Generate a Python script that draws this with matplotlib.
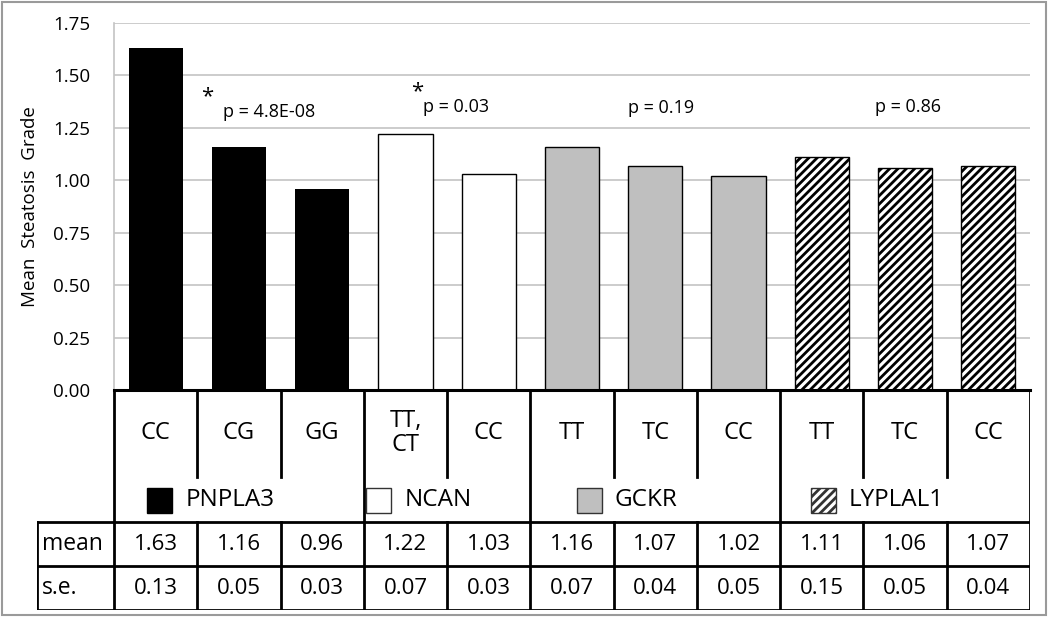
import numpy as np
import matplotlib.pyplot as plt
from matplotlib.patches import Rectangle

plt.rcParams['font.family'] = ['Open Sans', 'DejaVu Sans']
plt.rcParams['hatch.linewidth'] = 2.0

# data
genotypes = ['CC', 'CG', 'GG', 'TT,\nCT', 'CC', 'TT', 'TC', 'CC', 'TT', 'TC', 'CC']
means = [1.63, 1.16, 0.96, 1.22, 1.03, 1.16, 1.07, 1.02, 1.11, 1.06, 1.07]
ses = [0.13, 0.05, 0.03, 0.07, 0.03, 0.07, 0.04, 0.05, 0.15, 0.05, 0.04]
genes = ['PNPLA3', 'NCAN', 'GCKR', 'LYPLAL1']
gene_sizes = [3, 2, 3, 3]
pvals = ['p = 4.8E-08', 'p = 0.03', 'p = 0.19', 'p = 0.86']
signif = [True, True, False, False]

# styles per gene
face = ['black', 'white', '#bfbfbf', 'white']
hatch = [None, None, None, '////']

W, H = 1050, 620
fig = plt.figure(figsize=(W / 100, H / 100), dpi=100)

# pixel layout
axL, axR, axT, axB = 114, 1030, 23, 390
tabL, tabB = 37, 610
rowGeno, rowGene, rowMean = 477, 522, 566

ax = fig.add_axes([axL / W, 1 - axB / H, (axR - axL) / W, (axB - axT) / H])
n = len(means)
x = np.arange(n)
gidx = np.repeat(np.arange(len(genes)), gene_sizes)
for i in x:
    g = gidx[i]
    ax.bar(x[i], means[i], width=0.65, color=face[g], hatch=hatch[g],
           edgecolor='black', linewidth=0.0 if g == 0 else 1.0, zorder=3)
ax.set_xlim(-0.5, n - 0.5)
ax.set_ylim(0, 1.75)
ax.set_yticks(np.arange(0, 1.76, 0.25))
ax.set_yticklabels(['%.2f' % v for v in np.arange(0, 1.76, 0.25)], fontsize=13.5)
ax.tick_params(axis='y', length=0, pad=17)
ax.set_xticks([])
ax.grid(axis='y', color='#c4c4c4', linewidth=1.2, zorder=0)
for s in ['top', 'right']:
    ax.spines[s].set_visible(False)
ax.spines['left'].set_color('#c4c4c4')
ax.spines['left'].set_linewidth(1.2)
ax.spines['bottom'].set_linewidth(2.2)
ax.spines['bottom'].set_zorder(5)
ax.set_ylabel('Mean  Steatosis  Grade', fontsize=13.5, labelpad=10)

# p-value annotations
p_pos = [(0.81, 1.326), (3.21, 1.349), (5.67, 1.345), (8.64, 1.35)]
star_pos = [(0.62, 1.40), (3.14, 1.42)]
for k in range(len(genes)):
    px, py = p_pos[k]
    ax.text(px, py, pvals[k], fontsize=13, ha='left', va='center')
    if signif[k]:
        sx, sy = star_pos[k]
        ax.text(sx, sy, '*', fontsize=16, ha='center', va='center')

# table below
slot = (axR - axL) / n
tax = fig.add_axes([tabL / W, 1 - tabB / H, (axR - tabL) / W, (tabB - axB) / H])
tax.set_xlim(-0.5 - (axL - tabL) / slot, n - 0.5)
tax.set_ylim(tabB - axB, 0)
tax.axis('off')
lw = 2.0
yg, yn, ym, ys = rowGeno - axB, rowGene - axB, rowMean - axB, tabB - axB
left = -0.5 - (axL - tabL) / slot
bounds = np.concatenate([[0], np.cumsum(gene_sizes)]) - 0.5
for b in np.arange(-0.5, n):
    if b in bounds:
        tax.plot([b, b], [0, ys], color='black', lw=lw, solid_capstyle='projecting')
    else:
        tax.plot([b, b], [0, yg], color='black', lw=lw)
        tax.plot([b, b], [yn, ys], color='black', lw=lw)
for yy in [yn, ym, ys]:
    tax.plot([left, n - 0.5], [yy, yy], color='black', lw=lw, solid_capstyle='projecting')
tax.plot([left, left], [yn, ys], color='black', lw=lw, solid_capstyle='projecting')

for i in x:
    tax.text(i, 43, genotypes[i], ha='center', va='center', fontsize=17, linespacing=1.05)
    tax.text(i, (yn + ym) / 2, '%.2f' % means[i], ha='center', va='center', fontsize=16)
    tax.text(i, (ym + ys) / 2, '%.2f' % ses[i], ha='center', va='center', fontsize=16)
tax.text(left + 0.06, (yn + ym) / 2, 'mean', ha='left', va='center', fontsize=16.5)
tax.text(left + 0.06, (ym + ys) / 2, 's.e.', ha='left', va='center', fontsize=16.5)

# gene legend keys inside the table
rend = fig.canvas.get_renderer()
starts = np.cumsum([0] + gene_sizes[:-1])
sq = 25 / slot
for k, gname in enumerate(genes):
    c = starts[k] + (gene_sizes[k] - 1) / 2
    t = tax.text(0, 110, gname, ha='left', va='center', fontsize=17.5)
    wpx = t.get_window_extent(rend).width
    tx = c - (wpx / 2 + 9) / slot
    t.set_x(tx)
    x0 = tx - 38 / slot
    tax.add_patch(Rectangle((x0, 97.5), sq, 25, facecolor=face[k], hatch=hatch[k],
                            edgecolor='black' if k == 0 else '#333333', linewidth=1.0))

# outer frame
fig.patches.append(Rectangle((2 / W, 5 / H), 1044 / W, 613 / H, transform=fig.transFigure,
                             fill=False, edgecolor='#9a9a9a', linewidth=1.5))

fig.savefig('out.png', dpi=100)
